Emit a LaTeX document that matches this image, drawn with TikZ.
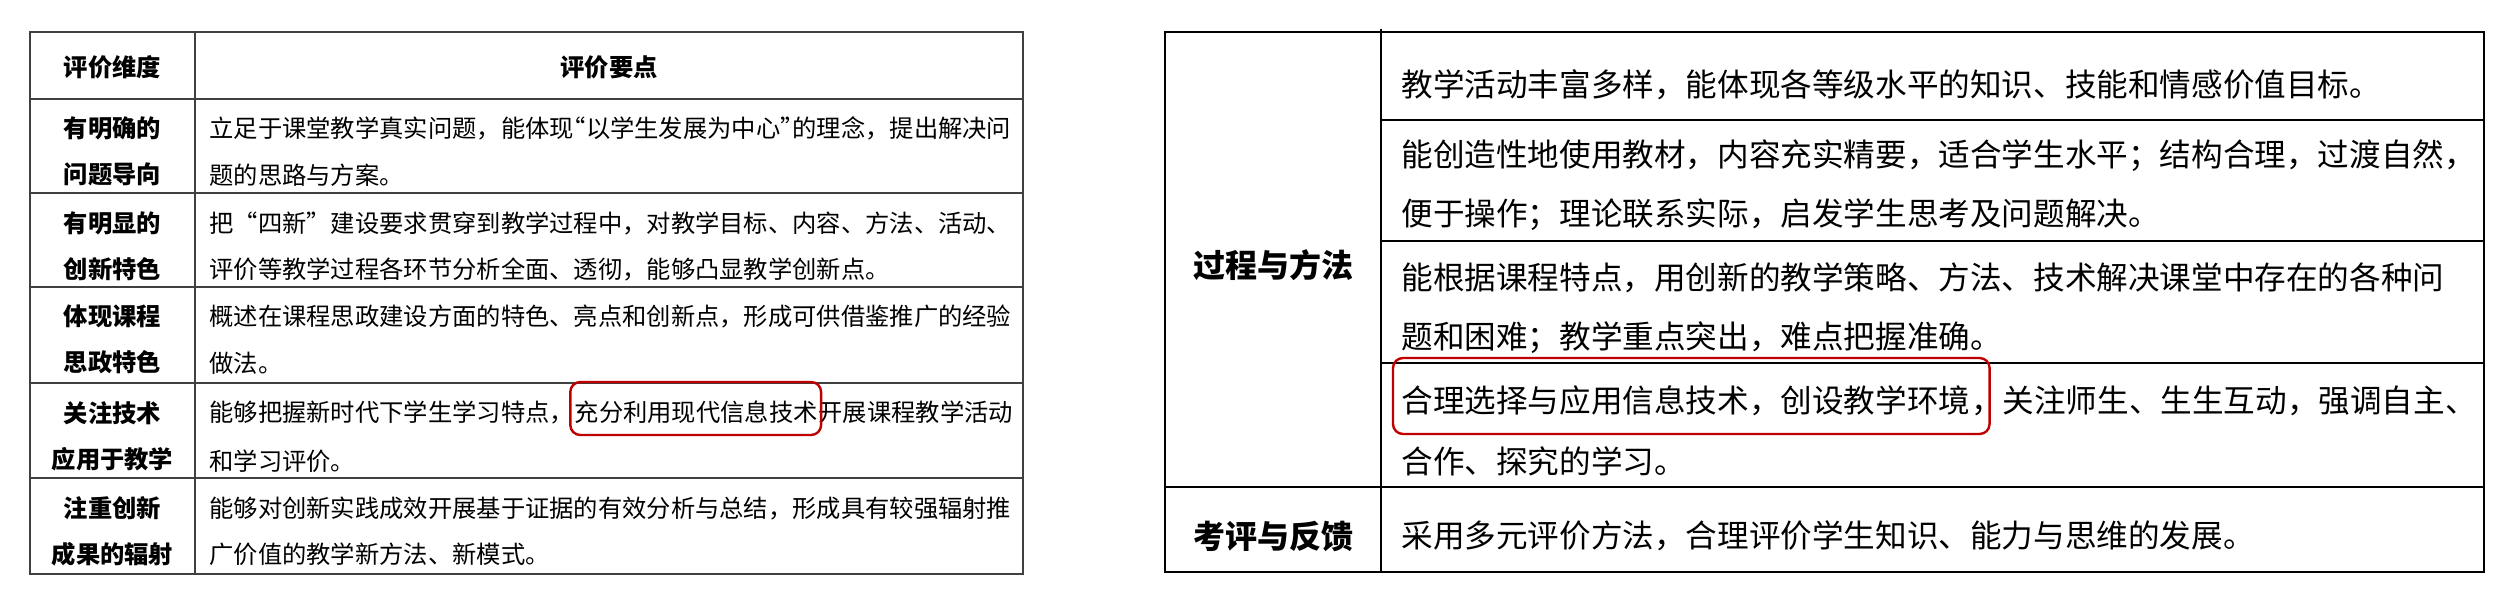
\documentclass[tikz,border=0pt]{standalone}
\usepackage{fontspec}
\setmainfont{Noto Sans CJK SC}
\usepackage{tikz}
\usetikzlibrary{positioning}
\definecolor{hlred}{HTML}{C00000}
\newcommand\openq{\makebox[0.5em][r]{“}}
\newcommand\closeq{\makebox[0.5em][l]{”}}

\begin{document}
\begin{tikzpicture}[x=0.5pt,y=-0.5pt,inner sep=0pt,
                    font=\fontsize{12.15}{23.25}\selectfont]
  \tikzstyle{grid}=[line width=1pt,draw=black!75]
  \tikzstyle{rgrid}=[line width=1.2pt,draw=black]
  \tikzstyle{head}=[align=center,font=\fontsize{12.15}{23.25}\selectfont\bfseries]
  \tikzstyle{cell}=[anchor=west,align=left]
  \tikzstyle{rhead}=[font=\fontsize{16}{29.5}\selectfont\bfseries]
  \tikzstyle{rcell}=[anchor=west,align=left,font=\fontsize{15.8}{29.5}\selectfont]
  \tikzstyle{hlbox}=[draw=hlred,line width=1.2pt,rounded corners=5pt]

  \useasboundingbox (0,0) rectangle (2518,604);
  \fill[white] (0,0) rectangle (2518,604);

  % left table
  \draw[grid] (30,32) rectangle (1023,574);
  \draw[grid] (195,32) -- (195,574);
  \draw[grid] (30,99) -- (1023,99);
  \draw[grid] (30,193) -- (1023,193);
  \draw[grid] (30,287) -- (1023,287);
  \draw[grid] (30,383) -- (1023,383);
  \draw[grid] (30,478) -- (1023,478);

  \node[head] (LH1) at (112.5,67) {评价维度};
  \node[head] (LH2) at (609,67)   {评价要点};

  \node[head] (L1) at (112.5,151.5) {有明确的\\问题导向};
  \node[head] (L2) at (112.5,246.5) {有明显的\\创新特色};
  \node[head] (L3) at (112.5,339.5) {体现课程\\思政特色};
  \node[head] (L4) at (112.5,436.5) {关注技术\\应用于教学};
  \node[head] (L5) at (112.5,531.5) {注重创新\\成果的辐射};

  \node[cell] (T1) at (209,151.5) {立足于课堂教学真实问题，能体现\openq 以学生发展为中心\closeq 的理念，提出解决问\\题的思路与方案。};
  \node[cell] (T2) at (209,246.5) {把“四新”建设要求贯穿到教学过程中，对教学目标、内容、方法、活动、\\评价等教学过程各环节分析全面、透彻，能够凸显教学创新点。};
  \node[cell] (T3) at (209,339.5) {概述在课程思政建设方面的特色、亮点和创新点，形成可供借鉴推广的经验\\做法。};
  \node[cell] (T4a) at (209,412) {能够把握新时代下学生学习特点，};
  \node[cell,base right=0pt of T4a] (T4hl) {充分利用现代信息技术};
  \node[cell,base right=0pt of T4hl] (T4b) {开展课程教学活动};
  \node[cell] (T4c) at (209,461) {和学习评价。};
  \node[cell] (T5) at (209,531.5) {能够对创新实践成效开展基于证据的有效分析与总结，形成具有较强辐射推\\广价值的教学新方法、新模式。};

  \coordinate (LT) at (0,382);
  \coordinate (LB) at (0,435);
  \draw[hlbox] ([xshift=-2pt]T4hl.west |- LT) rectangle ([xshift=1.5pt]T4hl.east |- LB);

  % right table
  \draw[rgrid] (1165,32) rectangle (2484,572);
  \draw[rgrid] (1381,29) -- (1381,572);
  \draw[rgrid] (1381,120) -- (2484,120);
  \draw[rgrid] (1381,241) -- (2484,241);
  \draw[rgrid] (1381,363) -- (2484,363);
  \draw[rgrid] (1165,487) -- (2484,487);

  \node[rhead] (R1) at (1273,265) {过程与方法};
  \node[rhead] (R2) at (1273,536) {考评与反馈};

  \node[rcell] (S1) at (1401,85) {教学活动丰富多样，能体现各等级水平的知识、技能和情感价值目标。};
  \node[rcell] (S2) at (1401,185.5) {能创造性地使用教材，内容充实精要，适合学生水平；结构合理，过渡自然，\\便于操作；理论联系实际，启发学生思考及问题解决。};
  \node[rcell] (S3) at (1401,308) {能根据课程特点，用创新的教学策略、方法、技术解决课堂中存在的各种问\\题和困难；教学重点突出，难点把握准确。};
  \node[rcell] (S4hl) at (1401,401) {合理选择与应用信息技术，创设教学环境};
  \node[rcell,base right=0pt of S4hl] (S4b) {，关注师生、生生互动，强调自主、};
  \node[rcell] (S4c) at (1401,461) {合作、探究的学习。};
  \node[rcell] (S5) at (1401,536) {采用多元评价方法，合理评价学生知识、能力与思维的发展。};

  \coordinate (RT) at (0,358);
  \coordinate (RB) at (0,434);
  \draw[hlbox] ([xshift=-4pt]S4hl.west |- RT) rectangle ([xshift=9.5pt]S4hl.east |- RB);

\end{tikzpicture}
\end{document}
